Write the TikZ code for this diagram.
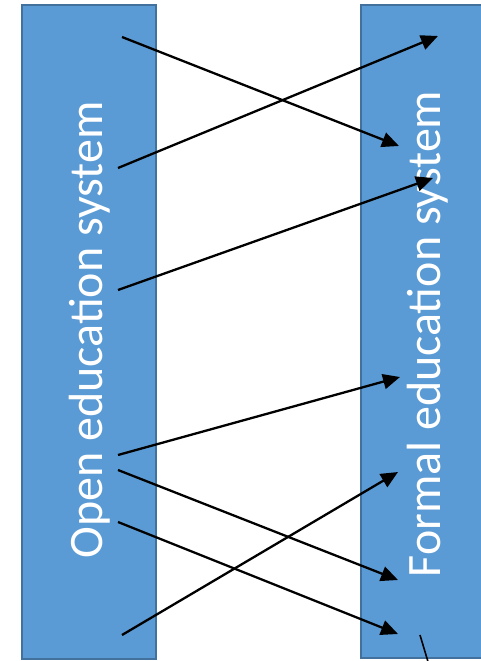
\documentclass[tikz,border=0pt]{standalone}
\usepackage{fontspec}
\setmainfont{Carlito}
\usetikzlibrary{arrows.meta}
\definecolor{boxfill}{HTML}{5B9BD5}
\definecolor{boxline}{HTML}{41719C}
\begin{document}
\begin{tikzpicture}[x=1pt,y=-1pt,
  sysbox/.style={fill=boxfill,draw=boxline,line width=1.5pt},
  systext/.style={text=white,font=\fontsize{48}{56}\selectfont,rotate=90,inner sep=0pt},
  link/.style={line width=2.3pt,-{Triangle[length=17pt,width=15pt]}}]
\useasboundingbox (0,0) rectangle (480,661);
\path[sysbox] (22,5) rectangle (156,659);
\path[sysbox] (361,5) rectangle (495,658);
\node[systext] (open) at (90,330) {Open education system};
\node[systext] (formal) at (428,334) {Formal education system};
\coordinate (a1) at (122,37);  \coordinate (b1) at (399,146);
\coordinate (a2) at (118,168); \coordinate (b2) at (438,36);
\coordinate (a3) at (118,290); \coordinate (b3) at (433,178);
\coordinate (a4) at (118,455); \coordinate (b4) at (400,377);
\coordinate (a5) at (118,470); \coordinate (b5) at (398,580);
\coordinate (a6) at (118,522); \coordinate (b6) at (398,634);
\coordinate (a7) at (122,635); \coordinate (b7) at (398,472);
\coordinate (c1) at (420,635); \coordinate (c2) at (429,665);
\draw[link] (a1) -- (b1);
\draw[link] (a2) -- (b2);
\draw[link] (a3) -- (b3);
\draw[link] (a4) -- (b4);
\draw[link] (a5) -- (b5);
\draw[link] (a6) -- (b6);
\draw[link] (a7) -- (b7);
\draw[line width=1.6pt] (c1) -- (c2);
\end{tikzpicture}
\end{document}
